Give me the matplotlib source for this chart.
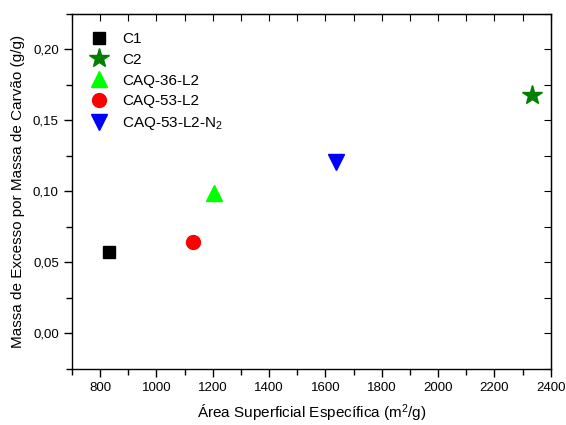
import matplotlib
matplotlib.use('Agg')
import matplotlib.pyplot as plt
from matplotlib.ticker import MultipleLocator, FuncFormatter

plt.rcParams['font.family'] = ['Liberation Sans', 'DejaVu Sans']
plt.rcParams['mathtext.fontset'] = 'custom'
plt.rcParams['mathtext.rm'] = 'Liberation Sans'
plt.rcParams['mathtext.it'] = 'Liberation Sans:italic'

# data
labels = ['C1', 'C2', 'CAQ-36-L2', 'CAQ-53-L2', 'CAQ-53-L2-N$_2$']
area = [830, 2335, 1205, 1130, 1637]
excess = [0.0575, 0.168, 0.0985, 0.0645, 0.1205]
markers = ['s', '*', '^', 'o', 'v']
colors = ['black', 'green', '#00ff00', 'red', 'blue']
sizes = [9, 15, 12, 10, 12]

fig = plt.figure(figsize=(5.66, 4.25), dpi=100)
ax = fig.add_axes([0.1272, 0.1318, 0.8458, 0.8364])

for i in range(len(labels)):
    ax.plot(area[i], excess[i], linestyle='none', marker=markers[i],
            color=colors[i], markersize=sizes[i], label=labels[i])

ax.set_xlim(700, 2400)
ax.set_ylim(-0.025, 0.225)
ax.xaxis.set_major_locator(MultipleLocator(200))
ax.xaxis.set_minor_locator(MultipleLocator(100))
ax.yaxis.set_major_locator(MultipleLocator(0.05))
ax.yaxis.set_minor_locator(MultipleLocator(0.025))
ax.yaxis.set_major_formatter(FuncFormatter(lambda v, p: ('%.2f' % v).replace('.', ',')))

ax.tick_params(which='both', labelsize=9.5, width=1)
ax.tick_params(which='both', direction='out', top=False, right=False)
ax.tick_params(which='major', length=6)
ax.tick_params(which='minor', length=4)

# Origin style: inward ticks on top and right
ax_top = ax.secondary_xaxis('top')
ax_top.xaxis.set_major_locator(MultipleLocator(100))
ax_top.tick_params(direction='in', length=5, labeltop=False)
ax_right = ax.secondary_yaxis('right')
ax_right.yaxis.set_major_locator(MultipleLocator(0.025))
ax_right.tick_params(direction='in', length=5, labelright=False)

for s in ax.spines.values():
    s.set_linewidth(1)

ax.set_xlabel('Área Superficial Específica (m$^2$/g)', fontsize=11, labelpad=6)
ax.set_ylabel('Massa de Excesso por Massa de Carvão (g/g)', fontsize=11, labelpad=6)

ax.legend(loc='upper left', frameon=False, fontsize=11, numpoints=1,
          handletextpad=0.9, labelspacing=0.45, borderaxespad=0.8,
          handlelength=1.2)

fig.savefig('out.png', dpi=100)
